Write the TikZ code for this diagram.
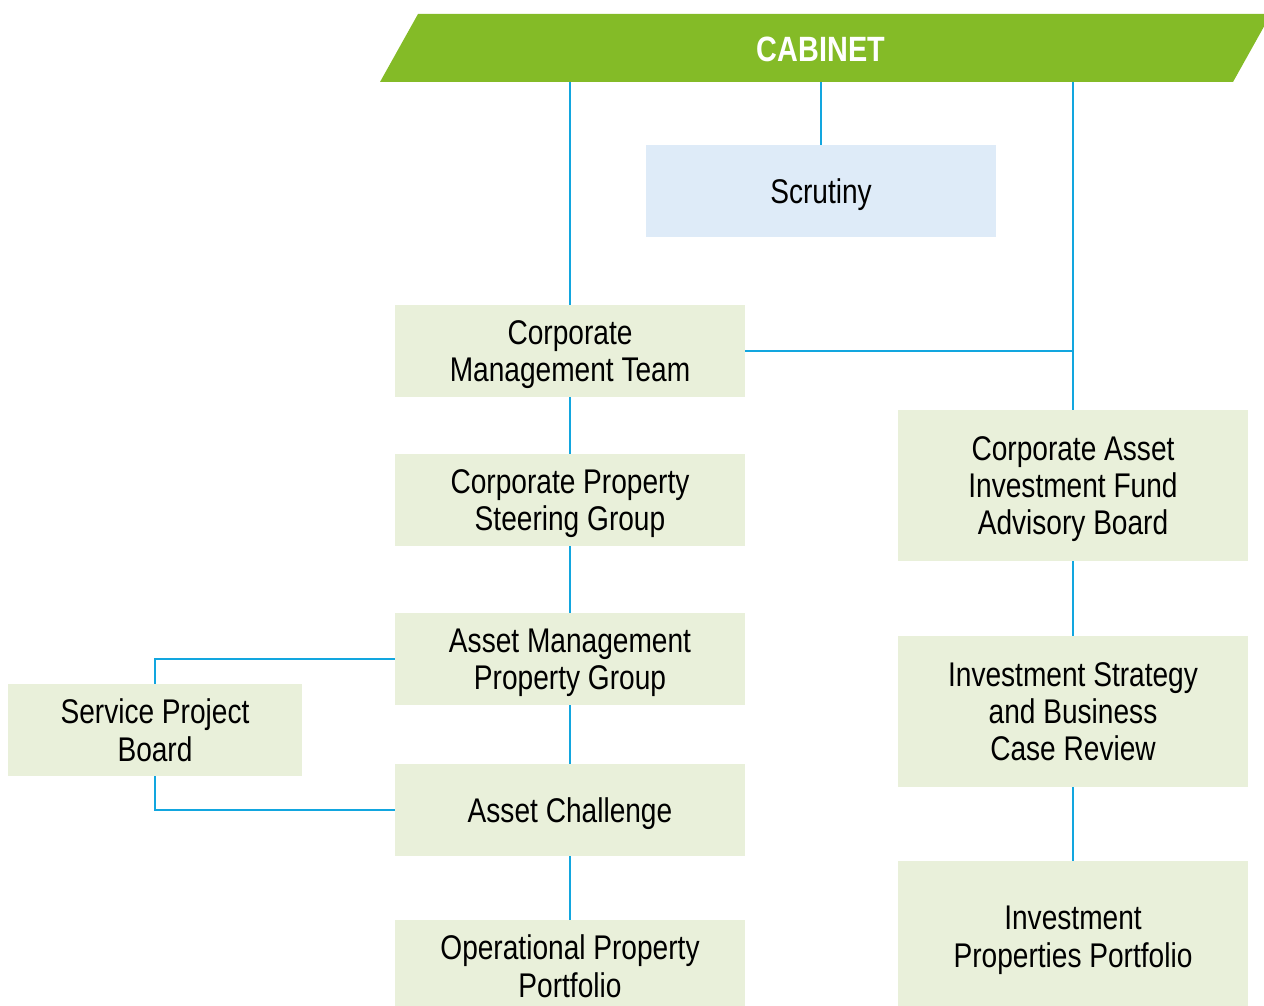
\documentclass[tikz,border=0pt]{standalone}
\usepackage{fontspec}
\setmainfont{Liberation Sans}[FakeStretch=0.82]
\definecolor{cabgreen}{HTML}{84BB27}
\definecolor{boxgreen}{HTML}{E9F0DA}
\definecolor{boxblue}{HTML}{DEEBF8}
\definecolor{linkblue}{HTML}{12A6DF}
\begin{document}
\begin{tikzpicture}[x=0.02cm, y=-0.02cm,
    body/.style ={rectangle, fill=boxgreen, inner sep=0pt, minimum width=7cm, minimum height=1.84cm,
                  text depth=0pt, align=center, font=\fontsize{19.5}{21.3}\selectfont},
    tallbody/.style ={body, minimum height=3.02cm},
    link/.style ={draw=linkblue, line width=1.5pt}]
   \useasboundingbox (0,0) rectangle (1264,1006);
   \clip (0,0) rectangle (1264,1006);

   % cabinet banner
   \fill[cabgreen] (418,14) -- (1271,14) -- (1233,82) -- (380,82) -- cycle;
   \node[text=white, font=\fontsize{20}{22}\selectfont\bfseries] (cabinet) at (821,49) {CABINET};
   \coordinate (cabL) at (570,82);
   \coordinate (cabM) at (821,82);
   \coordinate (cabR) at (1073,82);

   \node[body, fill=boxblue] (scrutiny) at (821,191) {Scrutiny};

   % left column
   \node[body] (cmt)  at (570,351) {Corporate\\Management Team};
   \node[body] (cpsg) at (570,500) {Corporate Property\\Steering Group};
   \node[body] (ampg) at (570,659) {Asset Management\\Property Group};
   \node[body] (ac)   at (570,810) {Asset Challenge};
   \node[body] (opp)  at (570,966) {Operational Property\\Portfolio};
   \node[body, minimum width=5.88cm] (spb) at (155,730) {Service Project\\Board};

   % right column
   \node[tallbody] (caifab) at (1073,485.5) {Corporate Asset\\Investment Fund\\Advisory Board};
   \node[tallbody] (isbcr)  at (1073,711.5) {Investment Strategy\\and Business\\Case Review};
   \node[tallbody] (ipp)    at (1073,936.5) {Investment\\Properties Portfolio};

   \draw[link] (cabL) -- (cmt);
   \draw[link] (cabM) -- (scrutiny);
   \draw[link] (cabR) -- (caifab);
   \draw[link] (cmt.east) -- (cmt.east -| caifab.north);
   \draw[link] (cmt) -- (cpsg);
   \draw[link] (cpsg) -- (ampg);
   \draw[link] (ampg) -- (ac);
   \draw[link] (ac) -- (opp);
   \draw[link] (ampg.west) -| (spb.north);
   \draw[link] (ac.west) -| (spb.south);
   \draw[link] (caifab) -- (isbcr);
   \draw[link] (isbcr) -- (ipp);
 \end{tikzpicture}
\end{document}
